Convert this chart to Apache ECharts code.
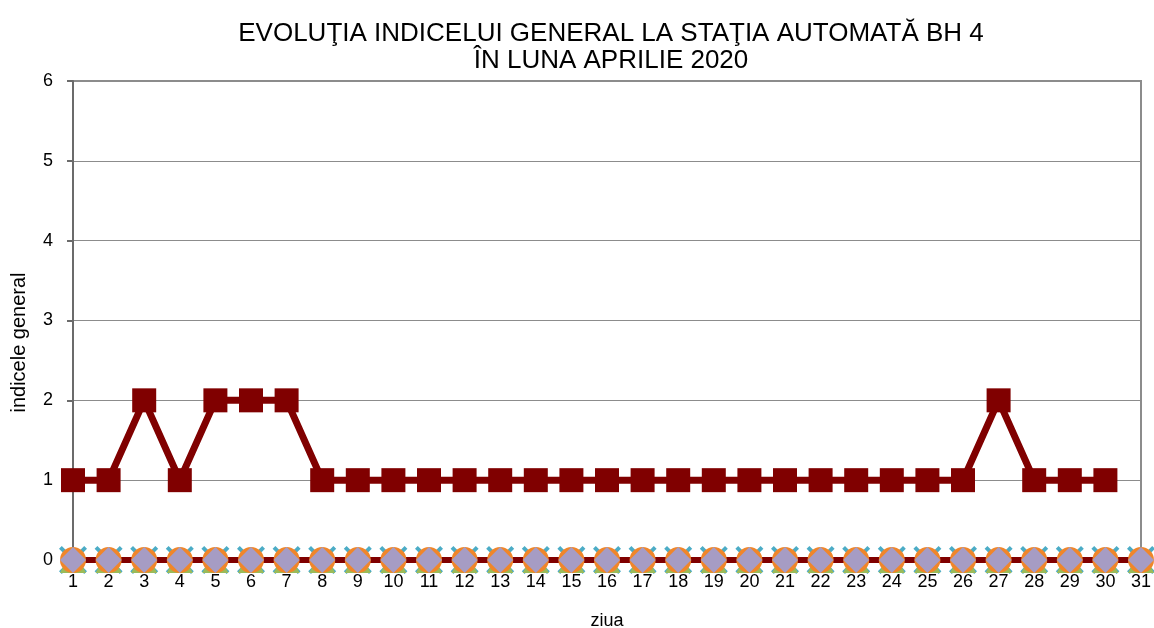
<!DOCTYPE html>
<html>
<head>
<meta charset="utf-8">
<script src="https://cdn.jsdelivr.net/npm/echarts@6/dist/echarts.min.js"></script>
<style>
  html, body { margin: 0; padding: 0; background: #fff; }
  #chart { width: 1154px; height: 628px; }
</style>
</head>
<body>
<div id="chart"></div>
<script>
  // zilele lunii aprilie (31 puncte pe axa)
  var days = []
  for (var d = 1; d <= 31; d++) days.push(String(d))

  // indicele general BH 4, ziua 1..30
  var indice = [1, 1, 2, 1, 2, 2, 2, 1, 1, 1, 1, 1, 1, 1, 1, 1, 1, 1, 1, 1, 1, 1, 1, 1, 1, 1, 2, 1, 1, 1, null]

  // seriile cu valoare zero pe toata luna
  var zero = [0, 0, 0, 0, 0, 0, 0, 0, 0, 0, 0, 0, 0, 0, 0, 0, 0, 0, 0, 0, 0, 0, 0, 0, 0, 0, 0, 0, 0, 0, 0]

  var yTicks = [0, 1, 2, 3, 4, 5, 6]

  var crossPath = 'path://M0,1L1,0L5,4L9,0L10,1L6,5L10,9L9,10L5,6L1,10L0,9L4,5Z'

  function zeroSeries(symbol, size, color) {
    return {
      type: 'line',
      data: zero,
      symbol: symbol,
      symbolSize: size,
      showAllSymbol: true,
      lineStyle: { width: 0, opacity: 0 },
      itemStyle: { color: color },
      z: 3
    }
  }

  var chart = echarts.init(document.getElementById('chart'))
  chart.setOption({
    backgroundColor: '#fff',
    animation: false,
    title: {
      text: 'EVOLUŢIA INDICELUI GENERAL LA STAŢIA AUTOMATĂ BH 4\nÎN LUNA APRILIE 2020',
      left: 606,
      top: 15,
      textAlign: 'center',
      textStyle: {
        fontFamily: 'Liberation Sans',
        fontWeight: 'normal',
        fontSize: 26,
        lineHeight: 27,
        color: '#000'
      }
    },
    grid: {
      left: 73,
      right: 13,
      top: 81,
      bottom: 68,
      outerBoundsMode: 'none',
      containLabel: false,
      show: true,
      borderColor: '#8c8c8c',
      borderWidth: 2
    },
    xAxis: {
      type: 'category',
      data: days,
      boundaryGap: false,
      name: 'ziua',
      nameLocation: 'middle',
      nameGap: 52,
      nameTextStyle: { fontFamily: 'Liberation Sans', fontSize: 18, color: '#000' },
      axisLine: { show: true, lineStyle: { color: '#808080', width: 2 } },
      axisTick: { show: false },
      axisLabel: {
        interval: 0,
        margin: 13,
        fontFamily: 'Liberation Sans',
        fontSize: 18,
        color: '#000'
      }
    },
    yAxis: {
      type: 'value',
      min: yTicks[0],
      max: yTicks[yTicks.length - 1],
      interval: 1,
      name: 'indicele general',
      nameLocation: 'middle',
      nameGap: 44,
      nameTextStyle: {
        fontFamily: 'Liberation Sans',
        fontSize: 20,
        color: '#000',
        padding: [0, 44, 0, 0]
      },
      axisLine: { show: true, lineStyle: { color: '#6b6b6b', width: 2 } },
      axisTick: { show: true, length: 6, lineStyle: { color: '#6b6b6b', width: 2 } },
      splitLine: { show: true, lineStyle: { color: '#8c8c8c', width: 1 } },
      axisLabel: {
        margin: 20,
        fontFamily: 'Liberation Sans',
        fontSize: 18,
        color: '#000'
      }
    },
    series: [
      {
        type: 'line',
        data: zero,
        symbol: 'none',
        lineStyle: { color: '#800000', width: 6 },
        z: 2
      },
      zeroSeries(crossPath, 28, '#4bacc6'),
      zeroSeries('triangle', 26, '#9bbb59'),
      zeroSeries('circle', 26, '#f0862a'),
      zeroSeries('diamond', 26, '#a69cc4'),
      {
        type: 'line',
        data: indice,
        symbol: 'rect',
        symbolSize: 24,
        showAllSymbol: true,
        lineStyle: { color: '#800000', width: 7 },
        itemStyle: { color: '#800000' },
        z: 4
      }
    ]
  })
</script>
</body>
</html>
